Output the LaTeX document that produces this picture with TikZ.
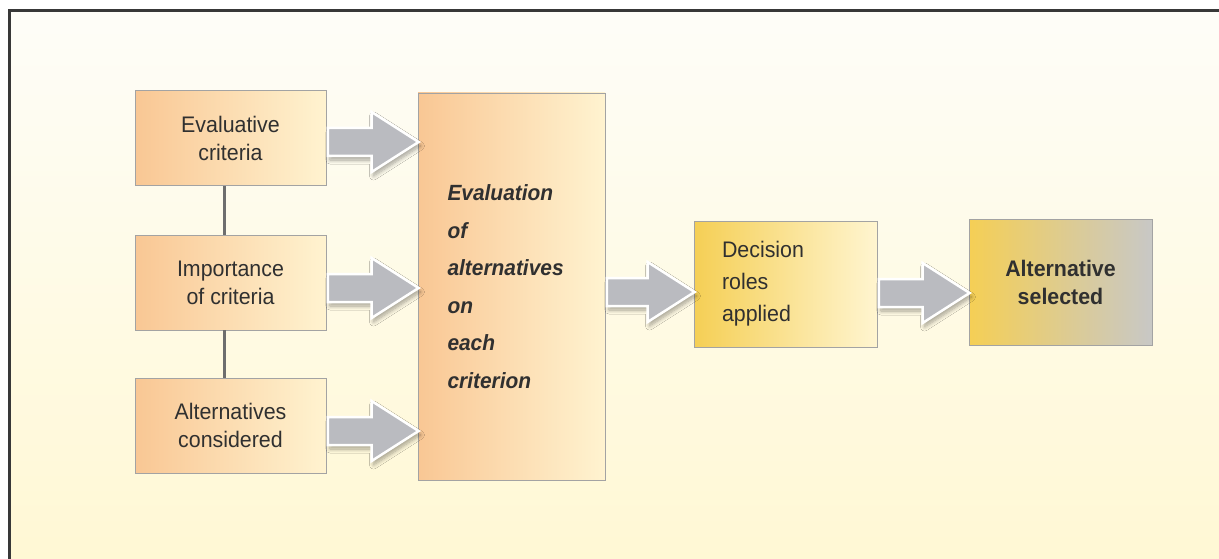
\documentclass[tikz,border=0pt]{standalone}
\usepackage{fontspec}
\setmainfont{Liberation Sans}[FakeStretch=0.95]
\usetikzlibrary{calc,shadows.blur}
\definecolor{txt}{HTML}{303030}
\definecolor{peachL}{HTML}{F9C794}
\definecolor{peachR}{HTML}{FFF3D0}
\definecolor{goldL}{HTML}{F5CF55}
\definecolor{goldR}{HTML}{FFF5D0}
\definecolor{greyR}{HTML}{C8C8C6}
\definecolor{boxline}{HTML}{A3A3A3}
\definecolor{arrfill}{HTML}{BABBC0}
\definecolor{bgtop}{HTML}{FEFDF8}
\definecolor{bgbot}{HTML}{FFF8D4}
\definecolor{frame}{HTML}{383838}
\definecolor{link}{HTML}{6E6E6E}
\tikzset{
  basebox/.style={draw=boxline, line width=0.8pt, text=txt, inner sep=0pt},
  inbox/.style={basebox, left color=peachL, right color=peachR,
    minimum width=191pt, minimum height=95pt, align=center,
    font=\fontsize{22.5}{28}\selectfont},
  evalbox/.style={basebox, left color=peachL, right color=peachR,
    minimum width=187pt, minimum height=387pt, align=left, text width=128pt,
    font=\fontsize{22}{37.5}\selectfont\bfseries\itshape},
  decbox/.style={basebox, left color=goldL, right color=goldR,
    minimum width=183pt, minimum height=126pt, align=left, text width=127pt,
    font=\fontsize{22.5}{32}\selectfont},
  selbox/.style={basebox, left color=goldL, right color=greyR,
    minimum width=183pt, minimum height=126pt, align=center,
    font=\fontsize{22.5}{28}\selectfont\bfseries},
  blockarrow/.style={fill=arrfill, draw=white, line width=2.5pt, line join=miter,
    blur shadow={shadow xshift=2pt, shadow yshift=-4pt, shadow blur radius=4pt,
      shadow opacity=35, shadow blur steps=8}},
  linkline/.style={draw=link, line width=3pt}
}
\newcommand\blockarr[3]{%
  \coordinate (bs) at ($(#1.center)+(0,#3)$);
  \coordinate (ba) at ($(#1.east |- bs)+(1.5,0)$);
  \coordinate (bt) at ($(#2.west |- bs)+(1,0)$);
  \path[blockarrow] ($(ba)+(0,14)$) -- ($(bt)+(-47,14)$) -- ($(bt)+(-47,30)$) -- (bt)
    -- ($(bt)+(-47,-30)$) -- ($(bt)+(-47,-14)$) -- ($(ba)+(0,-14)$) -- cycle;
}
\begin{document}
\begin{tikzpicture}[x=1pt,y=1pt]
\useasboundingbox (0,0) rectangle (1219,-559);
\fill[white] (0,0) rectangle (1219,-559);
\shade[top color=bgtop, bottom color=bgbot] (9,-11) rectangle (1219,-559);
\draw[frame, line width=3pt] (9,-559) -- (9,-11) -- (1219,-11);

\node[inbox] (e1) at (230.5,-138) {Evaluative\\criteria};
\node[inbox] (e2) at (230.5,-282.5) {Importance\\of criteria};
\node[inbox] (e3) at (230.5,-425.5) {Alternatives\\considered};
\node[evalbox] (ev) at (511.5,-286.5) {Evaluation\\of\\alternatives\\on\\each\\criterion};
\node[decbox] (dr) at (785.5,-284) {Decision\\roles\\applied};
\node[selbox] (as) at (1060.5,-282) {Alternative\\selected};

\draw[linkline] ([xshift=-6pt]e1.south) -- ([xshift=-6pt]e2.north);
\draw[linkline] ([xshift=-6pt]e2.south) -- ([xshift=-6pt]e3.north);

\blockarr{e1}{ev}{-4}
\blockarr{e2}{ev}{-5.5}
\blockarr{e3}{ev}{-5.5}
\blockarr{ev}{dr}{-5.5}
\blockarr{dr}{as}{-9}
\end{tikzpicture}
\end{document}
